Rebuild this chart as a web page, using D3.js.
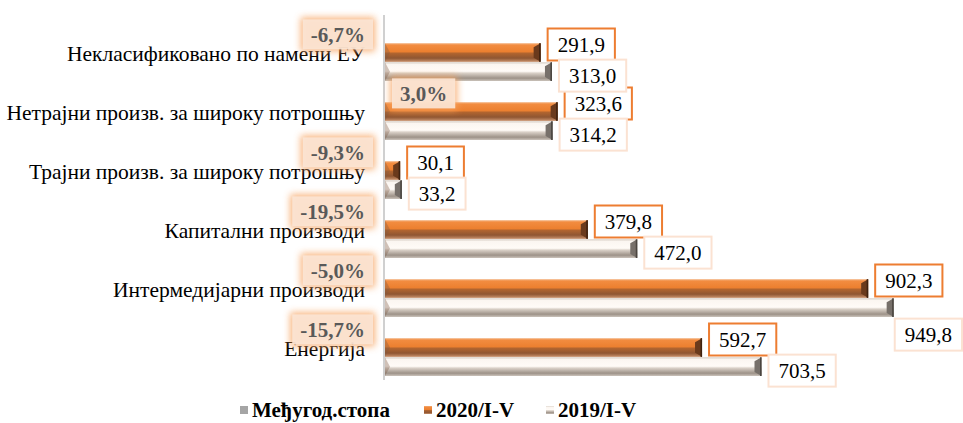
<!DOCTYPE html>
<html>
<head>
<meta charset="utf-8">
<script src="https://cdn.jsdelivr.net/npm/d3@7"></script>
<style>
body { margin: 0; background: #fff; }
svg text { font-family: "Liberation Serif", "Times New Roman", "DejaVu Serif", serif; }
</style>
</head>
<body>
<svg id="svg" width="963" height="423"></svg>
<script>
// data
const categories = ["Некласификовано по намени ЕУ", "Нетрајни произв. за широку потрошњу",
  "Трајни произв. за широку потрошњу", "Капитални производи", "Интермедијарни производи", "Енергија"];
const v2020 = [291.9, 323.6, 30.1, 379.8, 902.3, 592.7];
const v2019 = [313.0, 314.2, 33.2, 472.0, 949.8, 703.5];
const rate = [-6.7, 3.0, -9.3, -19.5, -5.0, -15.7];
const seriesNames = ["Међугод.стопа", "2020/I-V", "2019/I-V"];

const W = 963, H = 423;
const axisX = 384;
const FONT = '"Liberation Serif", "Times New Roman", serif';

const svg = d3.select('#svg');
const defs = svg.append('defs');

// gradients for the bevelled bars
function vgrad(id, stops) {
  const g = defs.append('linearGradient').attr('id', id)
    .attr('x1', 0).attr('y1', 0).attr('x2', 0).attr('y2', 1);
  stops.forEach(s => g.append('stop').attr('offset', s[0]).attr('stop-color', s[1]));
}
vgrad('gOr', [[0, '#f5bf95'], [0.1, '#f28c40'], [0.45, '#ec8030'], [0.55, '#b0642f'], [0.8, '#8f5632'], [1, '#c8916c']]);
vgrad('gGr', [[0, '#d6cdc4'], [0.12, '#fbf6f1'], [0.48, '#fffbf7'], [0.58, '#d9d0c7'], [0.85, '#9d9288'], [1, '#cbc3bb']]);

const glow = defs.append('filter').attr('id', 'glow')
  .attr('x', '-30%').attr('y', '-50%').attr('width', '160%').attr('height', '200%');
glow.append('feGaussianBlur').attr('stdDeviation', 3.5);

// scales
const x = d3.scaleLinear().domain([0, 1000]).range([axisX, axisX + 536.6]);
const y = d3.scaleBand().domain(categories).range([23, 377]).paddingInner(0.034).paddingOuter(0.017);
const ySub = d3.scaleBand().domain(seriesNames).range([0, y.bandwidth()]).paddingInner(0.02);

const fmt = v => d3.format('.1f')(v).replace('.', ',').replace('\u2212', '-');

// category axis line
svg.append('line')
  .attr('x1', axisX).attr('x2', axisX)
  .attr('y1', 15).attr('y2', 380)
  .attr('stroke', '#d0d0d0').attr('stroke-width', 2);

// category labels
svg.append('g').selectAll('text')
  .data(categories).enter().append('text')
  .attr('x', 365)
  .attr('y', d => y(d) + y.bandwidth() / 2 + 1)
  .attr('dy', '0.35em')
  .attr('text-anchor', 'end')
  .style('font-family', FONT)
  .style('font-size', '21.5px')
  .style('fill', '#000')
  .text(d => d);

// bars
function drawBars(vals, name, grad, capColor, rimColor) {
  const g = svg.append('g');
  const h = ySub.bandwidth();
  categories.forEach((c, i) => {
    const y0 = y(c) + ySub(name);
    const x1 = x(vals[i]);
    g.append('rect')
      .attr('x', axisX + 1).attr('y', y0)
      .attr('width', x1 - axisX - 1).attr('height', h)
      .attr('fill', 'url(#' + grad + ')');
    // end bevel
    g.append('polygon')
      .attr('points', [[x1 - 7, y0 + 4], [x1, y0], [x1, y0 + h], [x1 - 7, y0 + h - 4]].map(p => p.join(',')).join(' '))
      .attr('fill', capColor);
    g.append('rect')
      .attr('x', x1 - 1.5).attr('y', y0)
      .attr('width', 1.5).attr('height', h)
      .attr('fill', rimColor);
    // start bevel
    g.append('polygon')
      .attr('points', [[axisX + 1, y0], [axisX + 6, y0 + h / 2], [axisX + 1, y0 + h]].map(p => p.join(',')).join(' '))
      .attr('fill', '#7a5a44').attr('opacity', 0.35);
  });
}
drawBars(v2020, seriesNames[1], 'gOr', '#6a3a1c', '#3e2210');
drawBars(v2019, seriesNames[2], 'gGr', '#77706a', '#4a4540');

// value labels in boxes
function valueLabels(vals, name, border, dyOff) {
  const g = svg.append('g');
  categories.forEach((c, i) => {
    const rowC = y(c) + ySub(name) + ySub.bandwidth() / 2;
    const t = fmt(vals[i]);
    const txt = g.append('text')
      .attr('dy', '0.35em')
      .attr('text-anchor', 'middle')
      .style('font-family', FONT)
      .style('font-size', '21px')
      .style('fill', '#000')
      .text(t);
    const tw = txt.node().getComputedTextLength();
    const bw = tw + 20, bh = 32;
    let bx = x(vals[i]) + 7;
    let cy = rowC + dyOff;
    if (bx + bw > W - 1) { bx = W - 1 - bw; cy = rowC + 27; }
    g.insert('rect', 'text:last-child')
      .attr('x', bx).attr('y', cy - bh / 2)
      .attr('width', bw).attr('height', bh)
      .attr('fill', '#fff')
      .attr('stroke', border).attr('stroke-width', 2);
    txt.attr('x', bx + bw / 2).attr('y', cy);
  });
}
valueLabels(v2020, seriesNames[1], '#ed7d31', -8);
valueLabels(v2019, seriesNames[2], '#fbe2d2', 4);

// growth rate labels
const rg = svg.append('g');
categories.forEach((c, i) => {
  const rowC = y(c) + ySub(seriesNames[0]) + ySub.bandwidth() / 2 + 1;
  const t = fmt(rate[i]) + '%';
  const glowR = rg.append('rect');
  const boxR = rg.append('rect');
  const txt = rg.append('text')
    .attr('dy', '0.35em')
    .attr('text-anchor', 'middle')
    .style('font-family', FONT)
    .style('font-size', '21px')
    .style('font-weight', 'bold')
    .style('fill', '#595959')
    .text(t);
  const bw = txt.node().getComputedTextLength() + 16, bh = 30;
  const bx = rate[i] < 0 ? axisX - 11 - bw : axisX + 8;
  glowR.attr('x', bx - 2).attr('y', rowC - bh / 2 - 2)
    .attr('width', bw + 4).attr('height', bh + 4)
    .attr('fill', '#f7a35e').attr('opacity', 0.8)
    .attr('filter', 'url(#glow)');
  boxR.attr('x', bx).attr('y', rowC - bh / 2)
    .attr('width', bw).attr('height', bh)
    .attr('fill', '#fbe5d6').attr('opacity', 0.9);
  txt.attr('x', bx + bw / 2).attr('y', rowC);
});

// legend
const legend = svg.append('g');
const legX = [240, 424, 546];
const legFill = ['#a5a5a5', 'url(#gOr)', 'url(#gGr)'];
seriesNames.forEach((s, i) => {
  legend.append('rect')
    .attr('x', legX[i]).attr('y', 406)
    .attr('width', 8).attr('height', 8)
    .attr('fill', legFill[i]);
  legend.append('text')
    .attr('x', legX[i] + 12).attr('y', 410)
    .attr('dy', '0.35em')
    .style('font-family', FONT)
    .style('font-size', '21px')
    .style('font-weight', 'bold')
    .style('fill', '#000')
    .text(s);
});
</script>
</body>
</html>
